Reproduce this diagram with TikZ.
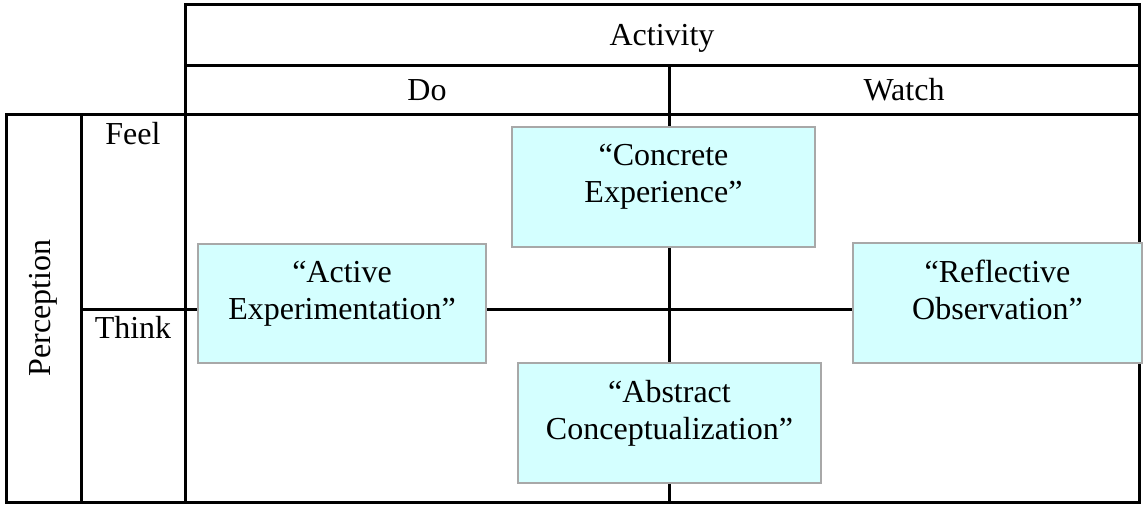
\documentclass[tikz,border=0pt]{standalone}
\usepackage{fontspec}
\setmainfont{Liberation Serif}
\definecolor{boxfill}{RGB}{212,255,255}
\definecolor{boxline}{RGB}{168,168,168}
\begin{document}
\begin{tikzpicture}[x=1pt,y=-1pt,
  grid/.style={line width=3pt,line cap=rect},
  lbl/.style={font=\fontsize{32}{37}\selectfont,inner sep=0pt},
  stage/.style={draw=boxline,fill=boxfill,line width=2pt,inner sep=0pt,anchor=north west},
  stagetext/.style={font=\fontsize{32}{37}\selectfont,align=center,inner sep=0pt,anchor=north,yshift=-18pt}]
\useasboundingbox (0,0) rectangle (1143,508);
% table frame and rules
\draw[grid] (6,115) rectangle (1139,502);
\draw[grid] (185,5) rectangle (1139,115);
\draw[grid] (185,66) -- (1139,66);
\draw[grid] (81,115) -- (81,502);
\draw[grid] (185,115) -- (185,502);
\draw[grid] (669,66) -- (669,502);
\draw[grid] (81,309) -- (1139,309);
% headers
\node[lbl,anchor=base] (activity) at (662,46) {Activity};
\node[lbl,anchor=base] (do) at (427,101) {Do};
\node[lbl,anchor=base] (watch) at (904,101) {Watch};
\node[lbl,anchor=base] (feel) at (133,145) {Feel};
\node[lbl,anchor=base] (think) at (133,338) {Think};
\node[lbl,rotate=90] (perception) at (43,308) {Perception};
% the four stages
\node[stage,minimum width=303pt,minimum height=120pt] (conc) at (511,126) {};
\node[stage,minimum width=288pt,minimum height=119pt] (act) at (197,243) {};
\node[stage,minimum width=303pt,minimum height=120pt] (abst) at (517,362) {};
\node[stage,minimum width=289pt,minimum height=120pt] (refl) at (852,242) {};
\node[stagetext] (concT) at (conc.north) {“Concrete\\Experience”};
\node[stagetext] (actT) at (act.north) {“Active\\Experimentation”};
\node[stagetext] (abstT) at (abst.north) {“Abstract\\Conceptualization”};
\node[stagetext] (reflT) at (refl.north) {“Reflective\\Observation”};
\end{tikzpicture}
\end{document}
